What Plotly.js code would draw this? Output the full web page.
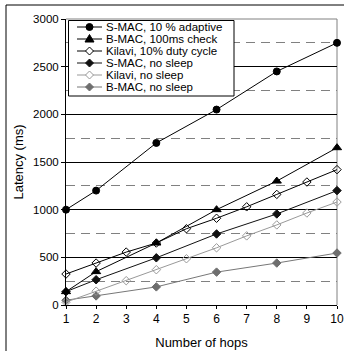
<!DOCTYPE html>
<html>
<head>
<meta charset="utf-8">
<script src="https://cdn.plot.ly/plotly-3.0.1.min.js"></script>
<style>html,body{margin:0;padding:0;background:#fff;}#chart{width:344px;height:351px;}</style>
</head>
<body>
<div id="chart"></div>
<script>
// ---- data ----
const seriesNames = ["S-MAC, 10 % adaptive", "B-MAC, 100ms check", "Kilavi, 10% duty cycle", "S-MAC, no sleep", "Kilavi, no sleep", "B-MAC, no sleep"];
const hopsEven = [1, 2, 4, 6, 8, 10];
const hopsAll = [1, 2, 3, 4, 5, 6, 7, 8, 9, 10];
const smacAdaptive = [1000, 1200, 1700, 2050, 2450, 2750];
const bmacCheck = [140, 350, 650, 1000, 1300, 1650];
const kilaviDuty = [325, 440, 555, 650, 800, 910, 1030, 1160, 1290, 1420];
const smacNoSleep = [140, 265, 495, 745, 955, 1200];
const kilaviNoSleep = [30, 145, 255, 370, 485, 600, 725, 840, 965, 1080];
const bmacNoSleep = [50, 95, 190, 345, 440, 545];
const xTicks = [1, 2, 3, 4, 5, 6, 7, 8, 9, 10];
const yTicks = [0, 500, 1000, 1500, 2000, 2500, 3000];

// ---- styles ----
const FONT = "Liberation Sans, Arial, sans-serif";
const styles = [
  {symbol: "circle", size: 7, color: "#000", line: "#000", lc: "#000", open: false},
  {symbol: "triangle-up", size: 8, color: "#000", line: "#000", lc: "#000", open: false},
  {symbol: "diamond-open", size: 6.5, color: "#000", line: "#000", lc: "#000", open: true},
  {symbol: "diamond", size: 6.5, color: "#111", line: "#111", lc: "#111", open: false},
  {symbol: "diamond-open", size: 6.5, color: "#999", line: "#999", lc: "#999", open: true},
  {symbol: "diamond", size: 6.5, color: "#6e6e6e", line: "#6e6e6e", lc: "#777", open: false}
];
const xs = [hopsEven, hopsEven, hopsAll, hopsEven, hopsAll, hopsEven];
const ys = [smacAdaptive, bmacCheck, kilaviDuty, smacNoSleep, kilaviNoSleep, bmacNoSleep];

const drawOrder = [5, 4, 3, 2, 1, 0];
const traces = drawOrder.map(i => ({
  type: "scatter", mode: "lines+markers", name: seriesNames[i],
  x: xs[i], y: ys[i], cliponaxis: false, showlegend: false,
  line: {color: styles[i].lc, width: 1},
  marker: {symbol: styles[i].symbol, size: styles[i].size, color: styles[i].color,
           line: {color: styles[i].line, width: 1}}
}));

// ---- pixel helpers for decoration ----
const L = 66, R = 337, T = 19, B = 305;
const px = x => (x - L) / (R - L);
const py = y => (B - y) / (B - T);

const shapes = [];
// outer frame (left and top)
shapes.push({type: "line", xref: "paper", yref: "paper", x0: px(6), x1: px(6), y0: py(5), y1: py(352), line: {color: "#000", width: 1}});
shapes.push({type: "line", xref: "paper", yref: "paper", x0: px(6), x1: px(345), y0: py(5), y1: py(5), line: {color: "#000", width: 1}});
// plot border top/right gray
shapes.push({type: "line", xref: "paper", yref: "paper", layer: "above", x0: 0, x1: 1, y0: 1, y1: 1, line: {color: "#808080", width: 1}});
shapes.push({type: "line", xref: "paper", yref: "paper", layer: "between", x0: 1, x1: 1, y0: 0, y1: 1, line: {color: "#808080", width: 1}});

// legend box
shapes.push({type: "rect", xref: "paper", yref: "paper", layer: "above", x0: px(68.5), x1: px(234), y0: py(20.5), y1: py(96), fillcolor: "#fff", line: {color: "#000", width: 1}});
const rows = [27, 39, 51, 63, 75, 87];
const annotations = [];
function pathPts(pts) {
  return "M " + pts.map(p => px(p[0]) + "," + py(p[1])).join(" L ") + " Z";
}
rows.forEach((ry, i) => {
  const st = styles[i];
  shapes.push({type: "line", xref: "paper", yref: "paper", layer: "above", x0: px(77), x1: px(102), y0: py(ry), y1: py(ry), line: {color: st.lc, width: 1}});
  const cx = 89.5;
  if (st.symbol === "circle") {
    shapes.push({type: "circle", xref: "paper", yref: "paper", layer: "above", x0: px(cx - 3.5), x1: px(cx + 3.5), y0: py(ry - 3.5), y1: py(ry + 3.5), fillcolor: st.color, line: {color: st.line, width: 1}});
  } else if (st.symbol === "triangle-up") {
    shapes.push({type: "path", xref: "paper", yref: "paper", layer: "above", path: pathPts([[cx, ry - 4.5], [cx + 4.5, ry + 3], [cx - 4.5, ry + 3]]), fillcolor: st.color, line: {color: st.line, width: 1}});
  } else {
    const d = 4;
    shapes.push({type: "path", xref: "paper", yref: "paper", layer: "above", path: pathPts([[cx, ry - d], [cx + d, ry], [cx, ry + d], [cx - d, ry]]), fillcolor: st.open ? "#fff" : st.color, line: {color: st.line, width: 1}});
  }
  annotations.push({xref: "paper", yref: "paper", x: px(105), y: py(ry), xanchor: "left", yanchor: "middle",
    text: seriesNames[i], showarrow: false, borderpad: 0,
    font: {family: FONT, size: 11.5, color: "#000"}});
});

const layout = {
  width: 344, height: 351,
  margin: {l: L, r: 344 - R, t: T, b: 351 - B, pad: 0},
  paper_bgcolor: "#fff", plot_bgcolor: "#fff",
  showlegend: false,
  font: {family: FONT, size: 12, color: "#000"},
  xaxis: {
    range: [1, 10], tickvals: xTicks, ticktext: xTicks.map(String),
    showgrid: false, zeroline: false, showline: true, linecolor: "#000", linewidth: 1,
    ticks: "outside", ticklen: 3, tickcolor: "#000",
    tickfont: {family: FONT, size: 12, color: "#000"},
    title: {text: "Number of hops", font: {family: FONT, size: 13, color: "#000"}, standoff: 12}
  },
  yaxis: {
    range: [0, 3000], tickvals: yTicks, ticktext: yTicks.map(String),
    showgrid: true, gridcolor: "#000", gridwidth: 1,
    zeroline: false, showline: true, linecolor: "#000", linewidth: 1,
    ticks: "outside", ticklen: 4, tickcolor: "#000",
    tickfont: {family: FONT, size: 11.5, color: "#000"},
    minor: {dtick: 250, tick0: 0, showgrid: true, gridcolor: "#808080", gridwidth: 1, griddash: "9px,6px", ticks: ""},
    title: {text: "Latency (ms)", font: {family: FONT, size: 13, color: "#000"}, standoff: 6}
  },
  shapes: shapes,
  annotations: annotations
};

Plotly.newPlot("chart", traces, layout, {displayModeBar: false, staticPlot: true});
</script>
</body>
</html>
